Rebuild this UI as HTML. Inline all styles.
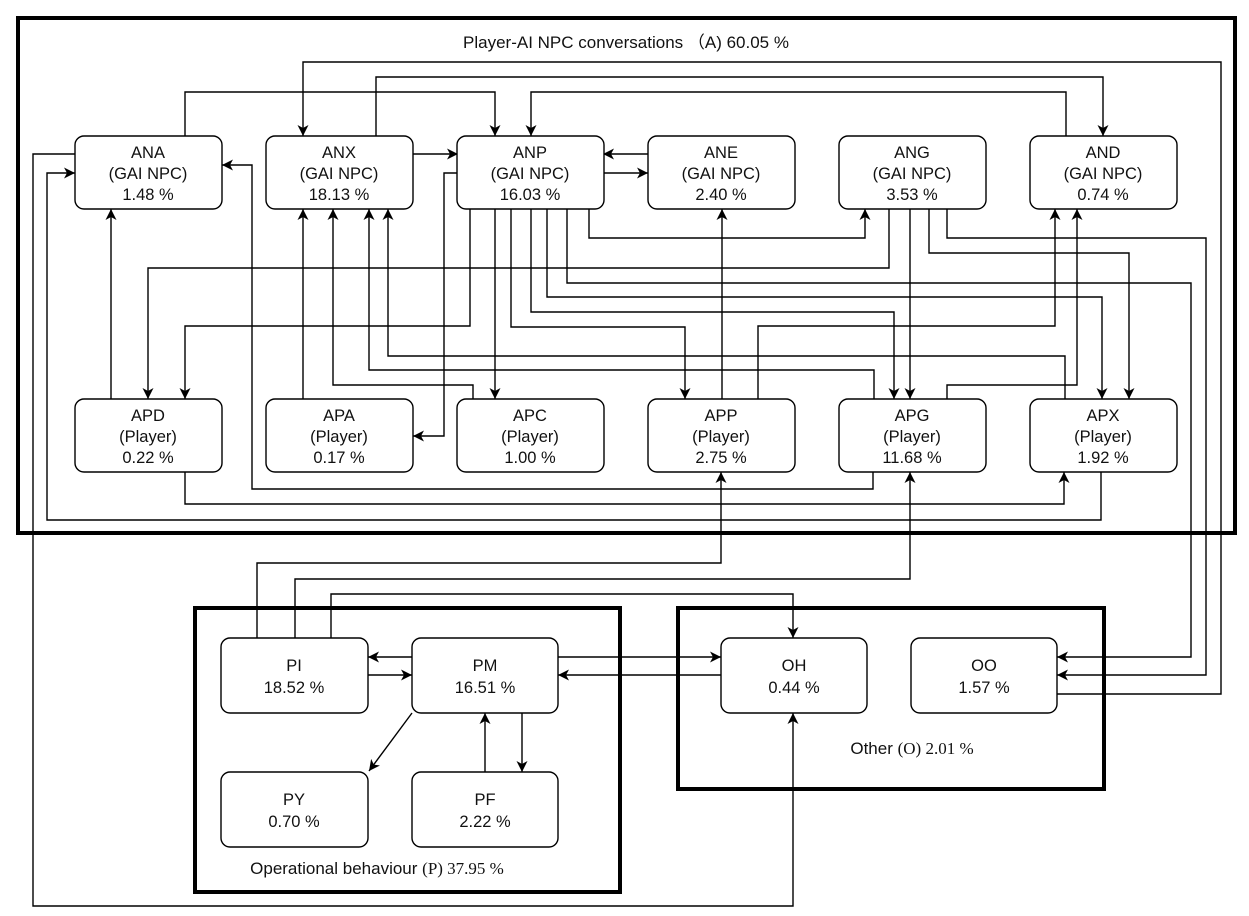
<!DOCTYPE html>
<html><head><meta charset="utf-8"><style>
html,body{margin:0;padding:0;background:#fff;}
svg{display:block;}
text{font-family:"Liberation Sans",sans-serif;font-size:16.5px;fill:#111;text-anchor:middle;}
.t{font-size:17px;}
.s{font-family:"Liberation Serif",serif;}
</style></head><body>
<svg width="1249" height="916" viewBox="0 0 1249 916" xmlns="http://www.w3.org/2000/svg">
<defs>
<marker id="a" markerUnits="userSpaceOnUse" markerWidth="12" markerHeight="12" refX="11" refY="6" orient="auto">
<path d="M0,0.5 L11,6 L0,11.5 L3,6 z" fill="#000"/>
</marker>
</defs>
<rect width="1249" height="916" fill="#fff"/>
<rect x="18" y="18" width="1217" height="515" fill="none" stroke="#000" stroke-width="4"/>
<rect x="195" y="608" width="425" height="284" fill="none" stroke="#000" stroke-width="4"/>
<rect x="678" y="608" width="426" height="181" fill="none" stroke="#000" stroke-width="4"/>
<text class="t" x="626" y="48">Player-AI NPC conversations （A) 60.05 %</text>
<text class="t" x="912" y="754">Other <tspan class="s">(O)  2.01 %</tspan></text>
<text class="t" x="377" y="874">Operational behaviour  <tspan class="s">(P)  37.95 %</tspan></text>
<g fill="none" stroke="#000" stroke-width="1.4" marker-end="url(#a)">
<path d="M1057,694 H1221 V62 H303 V136"/>
<path d="M376,136 V77 H1103 V136"/>
<path d="M185,136 V92 H495 V136"/>
<path d="M1066,136 V92 H531 V136"/>
<path d="M413,154 H458"/>
<path d="M648,154 H603"/>
<path d="M603,173 H648"/>
<path d="M75,154 H33 V906 H793 V713"/>
<path d="M1101,472 V520 H47 V173 H75"/>
<path d="M873,472 V489 H252 V165 H222"/>
<path d="M111,399 V209"/>
<path d="M303,399 V209"/>
<path d="M473,399 V385 H333 V209"/>
<path d="M874,399 V370 H369 V209"/>
<path d="M1065,399 V356 H388 V209"/>
<path d="M470,209 V326 H185 V399"/>
<path d="M495,209 V399"/>
<path d="M511,209 V327 H685 V399"/>
<path d="M531,209 V312 H894 V399"/>
<path d="M547,209 V297 H1102 V399"/>
<path d="M567,209 V283 H1191 V657 H1057"/>
<path d="M589,209 V238 H865 V209"/>
<path d="M458,173 H444 V436 H413"/>
<path d="M889,209 V268 H148 V399"/>
<path d="M910,209 V399"/>
<path d="M929,209 V253 H1129 V399"/>
<path d="M947,209 V238 H1206 V675 H1057"/>
<path d="M722,399 V209"/>
<path d="M758,399 V326 H1055 V209"/>
<path d="M947,399 V385 H1077 V209"/>
<path d="M185,472 V504 H1064 V472"/>
<path d="M257,638 V563 H721 V472"/>
<path d="M295,638 V579 H910 V472"/>
<path d="M331,638 V594 H793 V638"/>
<path d="M412,657 H368"/>
<path d="M368,675 H412"/>
<path d="M558,657 H721"/>
<path d="M721,675 H558"/>
<path d="M412,713 L369,771"/>
<path d="M485,772 V713"/>
<path d="M522,713 V772"/>
</g>
<g fill="#fff" stroke="#000" stroke-width="1.4">
<rect x="75" y="136" width="147" height="73" rx="9"/>
<rect x="266" y="136" width="147" height="73" rx="9"/>
<rect x="457" y="136" width="147" height="73" rx="9"/>
<rect x="648" y="136" width="147" height="73" rx="9"/>
<rect x="839" y="136" width="147" height="73" rx="9"/>
<rect x="1030" y="136" width="147" height="73" rx="9"/>
<rect x="75" y="399" width="147" height="73" rx="9"/>
<rect x="266" y="399" width="147" height="73" rx="9"/>
<rect x="457" y="399" width="147" height="73" rx="9"/>
<rect x="648" y="399" width="147" height="73" rx="9"/>
<rect x="839" y="399" width="147" height="73" rx="9"/>
<rect x="1030" y="399" width="147" height="73" rx="9"/>
<rect x="221" y="638" width="147" height="75" rx="9"/>
<rect x="412" y="638" width="146" height="75" rx="9"/>
<rect x="721" y="638" width="146" height="75" rx="9"/>
<rect x="911" y="638" width="146" height="75" rx="9"/>
<rect x="221" y="772" width="147" height="75" rx="9"/>
<rect x="412" y="772" width="146" height="75" rx="9"/>
</g>
<g>
<text x="148" y="158">ANA</text><text x="148" y="179">(GAI NPC)</text><text x="148" y="200">1.48 %</text>
<text x="339" y="158">ANX</text><text x="339" y="179">(GAI NPC)</text><text x="339" y="200">18.13 %</text>
<text x="530" y="158">ANP</text><text x="530" y="179">(GAI NPC)</text><text x="530" y="200">16.03 %</text>
<text x="721" y="158">ANE</text><text x="721" y="179">(GAI NPC)</text><text x="721" y="200">2.40 %</text>
<text x="912" y="158">ANG</text><text x="912" y="179">(GAI NPC)</text><text x="912" y="200">3.53 %</text>
<text x="1103" y="158">AND</text><text x="1103" y="179">(GAI NPC)</text><text x="1103" y="200">0.74 %</text>
<text x="148" y="421">APD</text><text x="148" y="442">(Player)</text><text x="148" y="463">0.22 %</text>
<text x="339" y="421">APA</text><text x="339" y="442">(Player)</text><text x="339" y="463">0.17 %</text>
<text x="530" y="421">APC</text><text x="530" y="442">(Player)</text><text x="530" y="463">1.00 %</text>
<text x="721" y="421">APP</text><text x="721" y="442">(Player)</text><text x="721" y="463">2.75 %</text>
<text x="912" y="421">APG</text><text x="912" y="442">(Player)</text><text x="912" y="463">11.68 %</text>
<text x="1103" y="421">APX</text><text x="1103" y="442">(Player)</text><text x="1103" y="463">1.92 %</text>
<text x="294" y="671">PI</text><text x="294" y="693">18.52 %</text>
<text x="485" y="671">PM</text><text x="485" y="693">16.51 %</text>
<text x="794" y="671">OH</text><text x="794" y="693">0.44 %</text>
<text x="984" y="671">OO</text><text x="984" y="693">1.57 %</text>
<text x="294" y="805">PY</text><text x="294" y="827">0.70 %</text>
<text x="485" y="805">PF</text><text x="485" y="827">2.22 %</text>
</g>
</svg>
</body></html>
